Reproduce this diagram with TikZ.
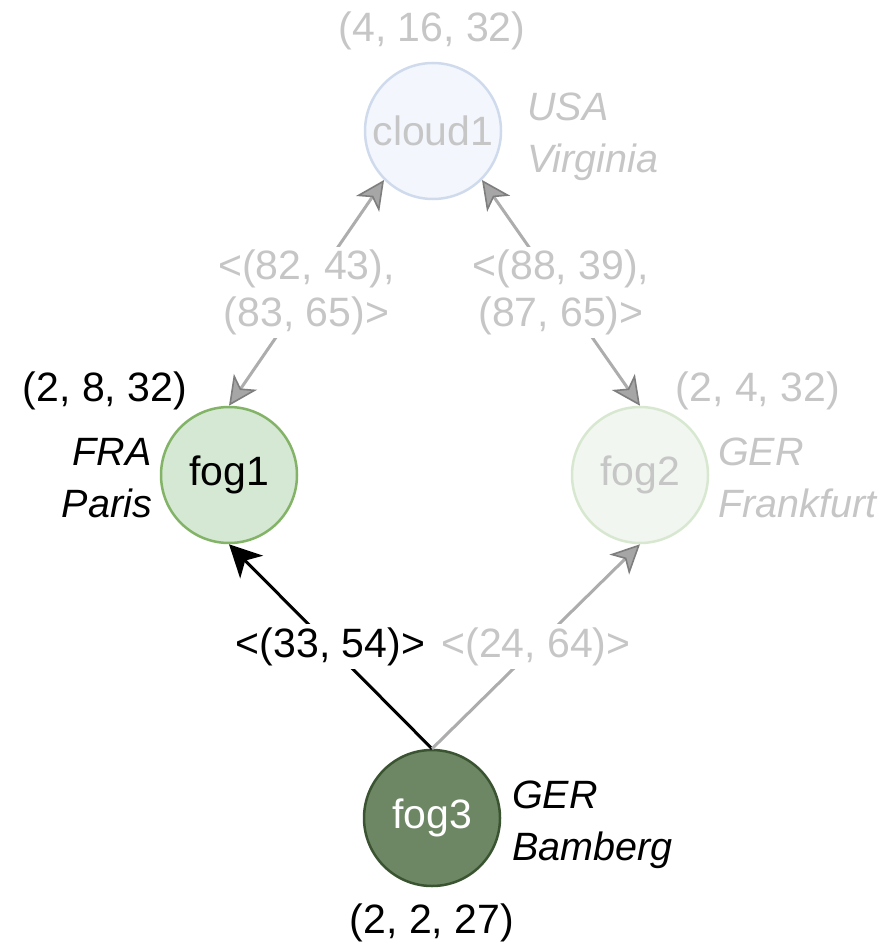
\documentclass[tikz,border=0pt]{standalone}
\usepackage{fontspec}
\setmainfont{Liberation Sans}
\usetikzlibrary{arrows.meta}

\definecolor{faintText}{HTML}{C6C6C6}
\definecolor{faintLine}{HTML}{ADADAD}
\definecolor{faintTip}{HTML}{A6A6A6}
\definecolor{faintTipEdge}{HTML}{7E7E7E}
\definecolor{cloudFill}{HTML}{F3F7FD}
\definecolor{cloudEdge}{HTML}{CFDBEC}
\definecolor{fogFill}{HTML}{D5E8D4}
\definecolor{fogEdge}{HTML}{82B366}
\definecolor{fogFaintFill}{HTML}{F1F7F0}
\definecolor{fogFaintEdge}{HTML}{D8E8D0}
\definecolor{darkFill}{HTML}{6D8764}
\definecolor{darkEdge}{HTML}{3A5431}

\tikzset{
  FaintTip/.tip={Stealth[length=29pt,width=28pt,inset=8pt,fill=faintTip,color=faintTipEdge,line width=1.6pt]},
  StrongTip/.tip={Stealth[length=32pt,width=32pt,inset=9pt]},
  base font/.style={font=\fontsize{41}{52}\selectfont},
  site/.style={circle, minimum size=136pt, inner sep=0pt, line width=2.5pt, base font},
  info/.style={inner sep=0pt, base font},
  place/.style={inner sep=0pt, align=left, font=\fontsize{39.5}{52}\selectfont\itshape},
  elabel/.style={fill=white, inner sep=3pt, align=center, font=\fontsize{41}{47}\selectfont},
  faintlink/.style={draw=faintLine, line width=3pt, FaintTip-FaintTip},
  faintone/.style={draw=faintLine, line width=3pt, -FaintTip},
  strongone/.style={draw=black, line width=3pt, -StrongTip}
}

\begin{document}
\begin{tikzpicture}[x=1pt, y=-1pt]
\useasboundingbox[fill=white] (0,0) rectangle (886,944);

% sites
\node[site, fill=cloudFill, draw=cloudEdge, text=faintText] (cloud1) at (433,131) {cloud1};
\node[site, fill=fogFill, draw=fogEdge] (fog1) at (229,475) {fog1};
\node[site, fill=fogFaintFill, draw=fogFaintEdge, text=faintText] (fog2) at (640,475) {fog2};
\node[site, fill=darkFill, draw=darkEdge, text=white] (fog3) at (432,818) {fog3};

% resource tuples
\node[info, text=faintText] (r1) at (432,31) {(4, 16, 32)};
\node[info] (r2) at (105,391) {(2, 8, 32)};
\node[info, text=faintText] (r3) at (758,391) {(2, 4, 32)};
\node[info] (r4) at (432,923) {(2, 2, 27)};

% locations
\node[place, anchor=west, text=faintText] (loc1) at (527,137) {USA\\Virginia};
\node[place, anchor=east, align=right] (loc2) at (152,478) {FRA\\Paris};
\node[place, anchor=west, text=faintText] (loc3) at (718,478) {GER\\Frankfurt};
\node[place, anchor=west] (loc4) at (512,825) {GER\\Bamberg};

% links
\draw[faintlink] (fog1.north) -- node[elabel, text=faintText] (e1) {<(82, 43),\\(83, 65)>} (cloud1.225);
\draw[faintlink] (fog2.north) -- node[elabel, text=faintText] (e2) {<(88, 39),\\(87, 65)>} (cloud1.-45);
\draw[strongone] (fog3.north) -- node[elabel] (e3) {<(33, 54)>} (fog1.south);
\draw[faintone] (fog3.north) -- node[elabel, text=faintText] (e4) {<(24, 64)>} (fog2.south);
\end{tikzpicture}
\end{document}
